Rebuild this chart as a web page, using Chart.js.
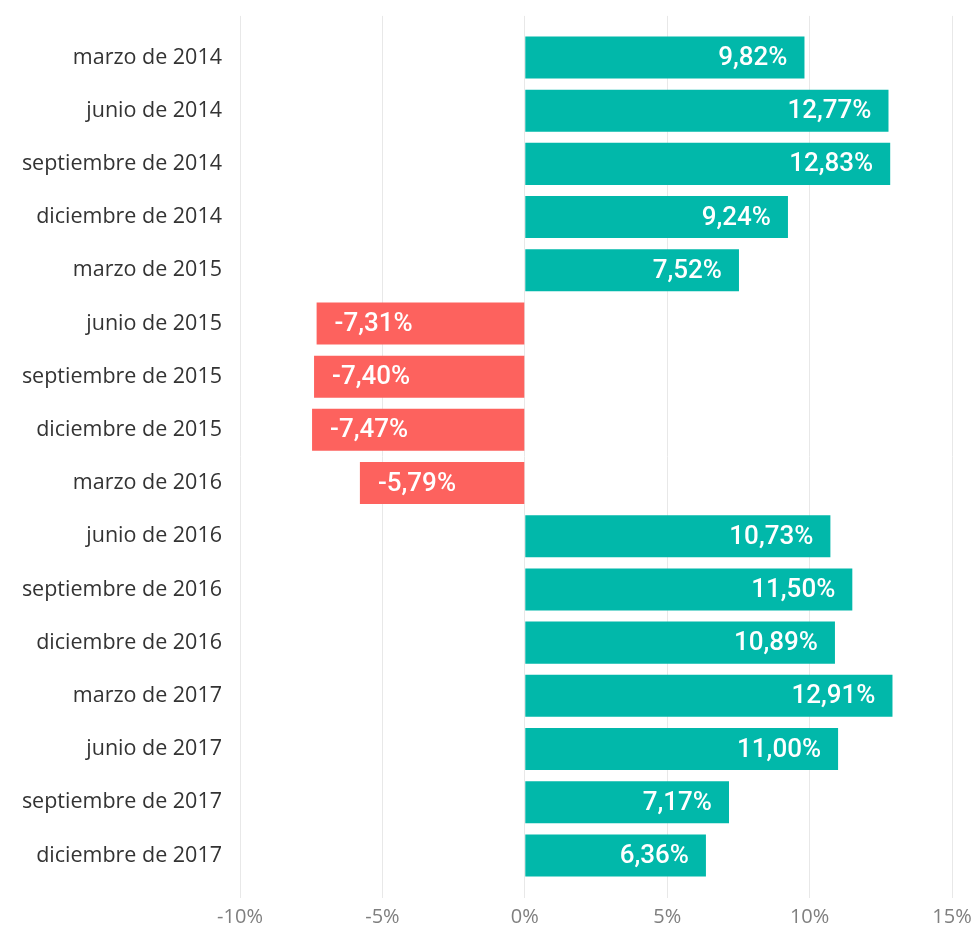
<!DOCTYPE html>
<html>
<head>
<meta charset="utf-8">
<script src="https://cdn.jsdelivr.net/npm/chart.js@4/dist/chart.umd.min.js"></script>
<style>
html,body{margin:0;padding:0;background:#fff;}
#wrap{width:976px;height:926px;position:relative;}
</style>
</head>
<body>
<div id="wrap"><canvas id="c" width="976" height="926"></canvas></div>
<script>
const categories = [
  'marzo de 2014','junio de 2014','septiembre de 2014','diciembre de 2014',
  'marzo de 2015','junio de 2015','septiembre de 2015','diciembre de 2015',
  'marzo de 2016','junio de 2016','septiembre de 2016','diciembre de 2016',
  'marzo de 2017','junio de 2017','septiembre de 2017','diciembre de 2017'
];
const values = [9.82, 12.77, 12.83, 9.24, 7.52, -7.31, -7.40, -7.47, -5.79, 10.73, 11.50, 10.89, 12.91, 11.00, 7.17, 6.36];
const xTickValues = [-10, -5, 0, 5, 10, 15];

const POS_COLOR = '#01B8AA';
const NEG_COLOR = '#FD625E';
const GRID_COLOR = '#e8e8e8';

const fmt = v => v.toFixed(2).replace('.', ',') + '%';

const dataLabelPlugin = {
  id: 'dataLabels',
  afterDatasetsDraw(chart) {
    const ctx = chart.ctx;
    const meta = chart.getDatasetMeta(0);
    ctx.save();
    ctx.font = '500 26px Roboto';
    ctx.fillStyle = '#ffffff';
    ctx.textBaseline = 'middle';
    meta.data.forEach((bar, i) => {
      const v = values[i];
      const p = bar.getProps(['x', 'y', 'base'], true);
      if (v >= 0) {
        ctx.textAlign = 'right';
        ctx.fillText(fmt(v), p.x - 17, p.y + 1);
      } else {
        ctx.textAlign = 'left';
        ctx.fillText(fmt(v), p.x + 18, p.y + 1);
      }
    });
    ctx.restore();
  }
};

new Chart(document.getElementById('c'), {
  type: 'bar',
  data: {
    labels: categories,
    datasets: [{
      data: values,
      backgroundColor: values.map(v => v >= 0 ? POS_COLOR : NEG_COLOR),
      barPercentage: 0.79,
      categoryPercentage: 1.0,
      borderWidth: 0
    }]
  },
  options: {
    indexAxis: 'y',
    responsive: false,
    animation: false,
    devicePixelRatio: 1,
    layout: { padding: { top: 15, right: 24, bottom: 0, left: 0 } },
    plugins: { legend: { display: false }, tooltip: { enabled: false } },
    scales: {
      x: {
        type: 'linear',
        position: 'bottom',
        min: -10, max: 15,
        afterBuildTicks: axis => { axis.ticks = xTickValues.map(v => ({ value: v })); },
        afterFit: axis => { axis.height = 44; axis.paddingLeft = 0; axis.paddingRight = 0; },
        grid: { color: GRID_COLOR, lineWidth: 1, drawTicks: true, tickLength: 16, tickColor: GRID_COLOR },
        border: { display: false },
        ticks: {
          padding: 7,
          color: '#7f7f7f',
          font: { family: "'Open Sans'", size: 20 },
          callback: v => v + '%'
        }
      },
      x2: {
        type: 'linear',
        position: 'top',
        min: -10, max: 15,
        afterBuildTicks: axis => { axis.ticks = xTickValues.map(v => ({ value: v })); },
        afterFit: axis => { axis.paddingLeft = 0; axis.paddingRight = 0; },
        grid: { drawOnChartArea: false, drawTicks: true, tickLength: 15, tickColor: GRID_COLOR, color: GRID_COLOR },
        border: { display: false },
        ticks: { display: false }
      },
      y: {
        type: 'category',
        afterFit: axis => { axis.width = 240; },
        grid: { display: false, drawTicks: false },
        border: { display: false },
        ticks: {
          padding: 18,
          color: '#333333',
          font: { family: "'Open Sans'", size: 21.5 }
        }
      }
    }
  },
  plugins: [dataLabelPlugin]
});
</script>
</body>
</html>
